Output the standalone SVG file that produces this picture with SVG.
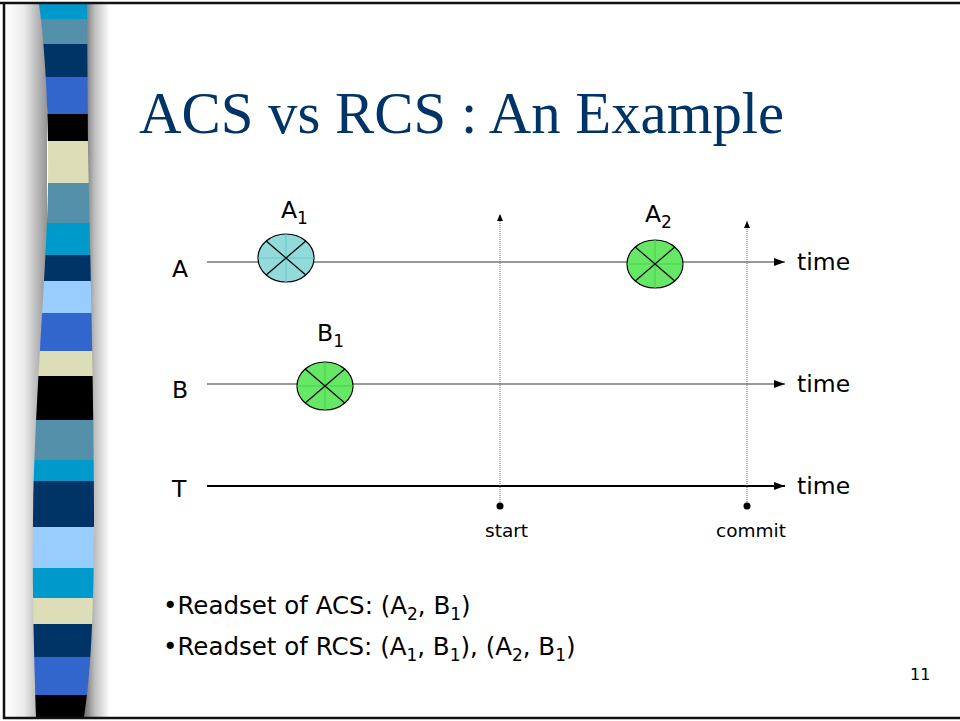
<svg xmlns="http://www.w3.org/2000/svg" width="960" height="721" viewBox="0 0 960 721">
<defs>
<style>
.lbl{font-family:"DejaVu Sans",sans-serif;font-size:23.5px;fill:#000}
.bl{font-family:"DejaVu Sans",sans-serif;font-size:24.5px;fill:#000}
.sm{font-family:"DejaVu Sans",sans-serif;font-size:18.5px;fill:#000}
.axis{stroke:#333;stroke-width:1;fill:none}
.vdot{stroke:#666;stroke-width:1;stroke-dasharray:1 1;fill:none}
.xl{stroke:#000;stroke-width:1.2}
</style>
<linearGradient id="lg" x1="0" y1="0" x2="1" y2="0">
<stop offset="0" stop-color="#ffffff"/>
<stop offset="0.45" stop-color="#ebebeb"/>
<stop offset="1" stop-color="#949494"/>
</linearGradient>
<linearGradient id="rg" x1="0" y1="0" x2="1" y2="0">
<stop offset="0" stop-color="#6e6e6e"/>
<stop offset="0.4" stop-color="#bdbdbd"/>
<stop offset="1" stop-color="#ffffff"/>
</linearGradient>
<clipPath id="stripeClip">
<path d="M39,4 C47,60 50,150 47,220 C44,300 34,420 33,520 C32,600 35,680 36,717 L84,717 C90,680 94,620 94,520 C94,400 90,250 88,150 L87,4 Z"/>
</clipPath>
<marker id="ah" markerWidth="12" markerHeight="10" refX="11" refY="5" orient="auto" markerUnits="userSpaceOnUse">
<path d="M0,1 L11,5 L0,9 Z" fill="#000"/>
</marker>
<marker id="vh" markerWidth="8" markerHeight="8" refX="7" refY="4" orient="auto" markerUnits="userSpaceOnUse">
<path d="M0,1 L7,4 L0,7 Z" fill="#000"/>
</marker>
</defs>
<rect width="960" height="721" fill="#ffffff"/>
<g id="sidebar">
<rect x="5" y="4" width="42" height="713" fill="url(#lg)"/>
<rect x="84" y="4" width="26" height="713" fill="url(#rg)"/>
<g clip-path="url(#stripeClip)">
<rect x="30" y="4" width="70" height="15" fill="#0099cc"/>
<rect x="30" y="19" width="70" height="25" fill="#5590aa"/>
<rect x="30" y="44" width="70" height="33" fill="#003366"/>
<rect x="30" y="77" width="70" height="37" fill="#3366cc"/>
<rect x="30" y="114" width="70" height="27" fill="#000000"/>
<rect x="30" y="141" width="70" height="42" fill="#ddddb8"/>
<rect x="30" y="183" width="70" height="40" fill="#5590aa"/>
<rect x="30" y="223" width="70" height="32" fill="#0099cc"/>
<rect x="30" y="255" width="70" height="26" fill="#003366"/>
<rect x="30" y="281" width="70" height="32" fill="#99ccff"/>
<rect x="30" y="313" width="70" height="38" fill="#3366cc"/>
<rect x="30" y="351" width="70" height="25" fill="#ddddb8"/>
<rect x="30" y="376" width="70" height="44" fill="#000000"/>
<rect x="30" y="420" width="70" height="40" fill="#5590aa"/>
<rect x="30" y="460" width="70" height="21" fill="#0099cc"/>
<rect x="30" y="481" width="70" height="46" fill="#003366"/>
<rect x="30" y="527" width="70" height="41" fill="#99ccff"/>
<rect x="30" y="568" width="70" height="30" fill="#0099cc"/>
<rect x="30" y="598" width="70" height="26" fill="#ddddb8"/>
<rect x="30" y="624" width="70" height="33" fill="#003366"/>
<rect x="30" y="657" width="70" height="38" fill="#3366cc"/>
<rect x="30" y="695" width="70" height="22" fill="#000000"/>
</g>
</g>
<g id="frame" fill="none" stroke="#111">
<line x1="0" y1="3" x2="960" y2="3" stroke-width="2.5"/>
<line x1="4" y1="2" x2="4" y2="719" stroke-width="2.5"/>
<line x1="3" y1="718" x2="960" y2="718" stroke-width="2.5"/>
</g>
<text id="title" x="139" y="133" font-family="'Liberation Serif','Times New Roman',serif" font-size="58.8" fill="#003366">ACS vs RCS : An Example</text>
<g id="connectors">
<line class="axis" x1="207" y1="262" x2="785" y2="262" marker-end="url(#ah)"/>
<line class="axis" x1="207" y1="384" x2="785" y2="384" marker-end="url(#ah)"/>
<line x1="207" y1="486" x2="785" y2="486" stroke="#000" stroke-width="2" marker-end="url(#ah)"/>
<line class="vdot" x1="500" y1="506" x2="500" y2="214" marker-end="url(#vh)"/>
<line class="vdot" x1="747" y1="506" x2="747" y2="221" marker-end="url(#vh)"/>
<circle cx="500" cy="506" r="3.5" fill="#000"/>
<circle cx="747" cy="506" r="3.5" fill="#000"/>
</g>
<g id="axis-labels">
<text class="lbl" x="172" y="277">A</text>
<text class="lbl" x="172" y="398">B</text>
<text class="lbl" x="172" y="497">T</text>
<text class="lbl" x="797" y="270">time</text>
<text class="lbl" x="797" y="392">time</text>
<text class="lbl" x="797" y="494">time</text>
<text class="sm" x="485" y="537">start</text>
<text class="sm" x="716" y="537">commit</text>
</g>
<g id="node-A1">
<ellipse cx="286" cy="258" rx="28" ry="24" fill="#93dada" stroke="#000" stroke-width="1.2"/>
<line x1="286" y1="234" x2="286" y2="282" stroke="#66c8c8"/>
<line x1="258" y1="258" x2="314" y2="258" stroke="#66c8c8"/>
<line class="xl" x1="266.2" y1="241" x2="305.8" y2="275"/>
<line class="xl" x1="305.8" y1="241" x2="266.2" y2="275"/>
<text class="lbl" x="281" y="218">A<tspan font-size="17" dy="6">1</tspan></text>
</g>
<g id="node-B1">
<ellipse cx="325" cy="386" rx="28" ry="24" fill="#66e866" stroke="#000" stroke-width="1.2"/>
<line x1="325" y1="362" x2="325" y2="410" stroke="#44d444"/>
<line x1="297" y1="386" x2="353" y2="386" stroke="#44d444"/>
<line class="xl" x1="305.2" y1="369" x2="344.8" y2="403"/>
<line class="xl" x1="344.8" y1="369" x2="305.2" y2="403"/>
<text class="lbl" x="317" y="341">B<tspan font-size="17" dy="6">1</tspan></text>
</g>
<g id="node-A2">
<ellipse cx="655" cy="264" rx="28" ry="24" fill="#66e866" stroke="#000" stroke-width="1.2"/>
<line x1="655" y1="240" x2="655" y2="288" stroke="#44d444"/>
<line x1="627" y1="264" x2="683" y2="264" stroke="#44d444"/>
<line class="xl" x1="635.2" y1="247" x2="674.8" y2="281"/>
<line class="xl" x1="674.8" y1="247" x2="635.2" y2="281"/>
<text class="lbl" x="645" y="222">A<tspan font-size="17" dy="6">2</tspan></text>
</g>
<g id="bullets">
<text class="bl" x="163" y="614">•Readset of ACS: (A<tspan font-size="17" dy="6">2</tspan><tspan dy="-6">, B</tspan><tspan font-size="17" dy="6">1</tspan><tspan dy="-6">)</tspan></text>
<text class="bl" x="163" y="655">•Readset of RCS: (A<tspan font-size="17" dy="6">1</tspan><tspan dy="-6">, B</tspan><tspan font-size="17" dy="6">1</tspan><tspan dy="-6">), (A</tspan><tspan font-size="17" dy="6">2</tspan><tspan dy="-6">, B</tspan><tspan font-size="17" dy="6">1</tspan><tspan dy="-6">)</tspan></text>
</g>
<text id="page-number" x="910" y="680" font-family="'DejaVu Sans',sans-serif" font-size="16" fill="#000">11</text>
</svg>
